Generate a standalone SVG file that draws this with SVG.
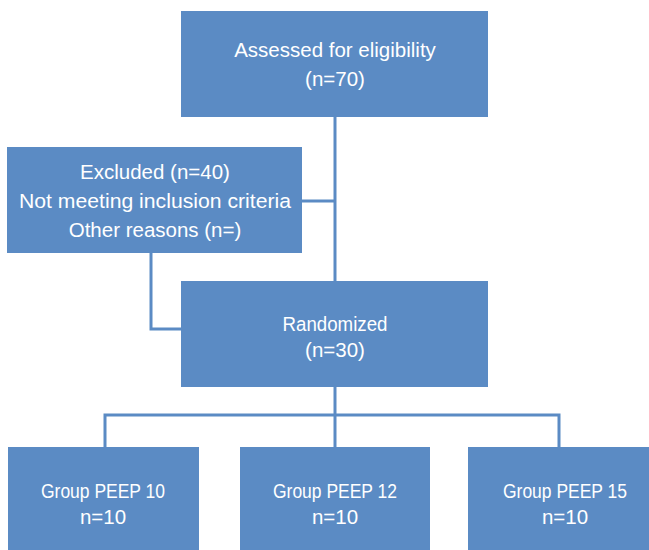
<svg xmlns="http://www.w3.org/2000/svg" width="649" height="550" viewBox="0 0 649 550">
<style>
.box{fill:#5B8BC4;}
.t{fill:#ffffff;font-family:"Liberation Sans",Arial,sans-serif;font-size:20.5px;text-anchor:middle;}
.c{fill:none;stroke:#5B8BC4;stroke-width:3;}
</style>
<rect width="649" height="550" fill="#ffffff"/>
<g id="connectors">
<path class="c" d="M335 117 V281"/>
<path class="c" d="M302 201 H335"/>
<path class="c" d="M151 253 V329 H181"/>
<path class="c" d="M335 387 V447"/>
<path class="c" d="M105 447 V415 H559 V447"/>
</g>
<g id="assessed">
<rect class="box" x="181" y="11" width="307" height="106"/>
<text class="t" x="335" y="57">Assessed for eligibility</text>
<text class="t" x="335" y="86">(n=70)</text>
</g>
<g id="excluded">
<rect class="box" x="7" y="147" width="295" height="106"/>
<text class="t" x="155" y="179">Excluded (n=40)</text>
<text class="t" x="155" y="208" textLength="272" lengthAdjust="spacingAndGlyphs">Not meeting inclusion criteria</text>
<text class="t" x="155" y="237">Other reasons (n=)</text>
</g>
<g id="randomized">
<rect class="box" x="181" y="281" width="307" height="106"/>
<text class="t" x="335" y="331" textLength="105" lengthAdjust="spacingAndGlyphs">Randomized</text>
<text class="t" x="335" y="357">(n=30)</text>
</g>
<g id="peep10">
<rect class="box" x="8" y="447" width="191" height="103"/>
<text class="t" x="103" y="498" textLength="124" lengthAdjust="spacingAndGlyphs">Group PEEP 10</text>
<text class="t" x="103" y="524">n=10</text>
</g>
<g id="peep12">
<rect class="box" x="240" y="447" width="190" height="103"/>
<text class="t" x="335" y="498" textLength="124" lengthAdjust="spacingAndGlyphs">Group PEEP 12</text>
<text class="t" x="335" y="524">n=10</text>
</g>
<g id="peep15">
<rect class="box" x="468" y="447" width="181" height="103"/>
<text class="t" x="565" y="498" textLength="124" lengthAdjust="spacingAndGlyphs">Group PEEP 15</text>
<text class="t" x="565" y="524">n=10</text>
</g>
</svg>
